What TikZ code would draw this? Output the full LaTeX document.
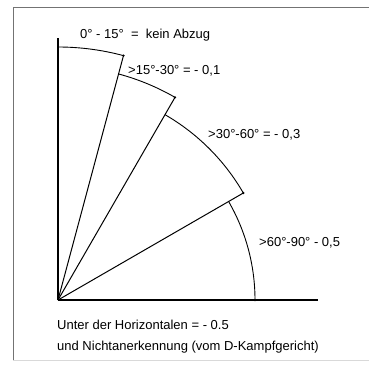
\documentclass[tikz,border=0pt]{standalone}
\usepackage{fontspec}
\setmainfont{Liberation Sans}
\begin{document}
\begin{tikzpicture}[x=1pt, y=1pt, every node/.style={font=\fontsize{13}{15}\selectfont, inner sep=0pt, anchor=west},
  axis/.style={line width=1.3pt}, ray/.style={line width=1pt}, rim/.style={line width=0.9pt},
  dot/.style={circle, fill, inner sep=0pt, minimum size=2.6pt, anchor=center},
  frame/.style={line width=1pt, black!55}]
  \useasboundingbox (0,0) rectangle (369,365);
  % frame
  \draw[frame] (369,357) -- (13,357) -- (13,5);
  \draw[black!15, line width=0.6pt] (13,5) -- (369,5);
  % axes
  \coordinate (o) at (58,65);
  \coordinate (ytop) at (58,327);
  \coordinate (xend) at (318,65);
  \draw[axis] (o) -- (ytop);
  \draw[axis, line width=1.6pt] (o) -- (xend);
  % arc ends
  \path (o) ++(75:253) coordinate (e1);
  \path (o) ++(60:234) coordinate (e2);
  \path (o) ++(30:214) coordinate (e3);
  \path (o) ++(0:197) coordinate (e4);
  % rays
  \draw[ray] (o) -- (e1);
  \draw[ray] (o) -- (e2);
  \draw[ray] (o) -- (e3);
  % arcs
  \draw[rim] (o) ++(90:253) arc[start angle=90, end angle=75, radius=253pt];
  \draw[rim] (o) ++(75:234) arc[start angle=75, end angle=60, radius=234pt];
  \draw[rim] (o) ++(60:214) arc[start angle=60, end angle=30, radius=214pt];
  \draw[rim] (o) ++(30:197) arc[start angle=30, end angle=0, radius=197pt];
  \node[dot] (d1) at (e1) {};
  \node[dot] (d2) at (e2) {};
  \node[dot] (d3) at (e3) {};
  \node[dot] (d4) at (e4) {};
  % labels
  \node (l1) at (80,330) {0° - 15°\ \ =\ \ kein Abzug};
  \node (l2) at (128,294) {>15°-30° = - 0,1};
  \node (l3) at (208,230) {>30°-60° = - 0,3};
  \node (l4) at (259,122) {>60°-90° - 0,5};
  \node (n1) at (57,40) {Unter der Horizontalen = - 0.5};
  \node (n2) at (57,18) {und Nichtanerkennung (vom D-Kampfgericht)};
\end{tikzpicture}
\end{document}
